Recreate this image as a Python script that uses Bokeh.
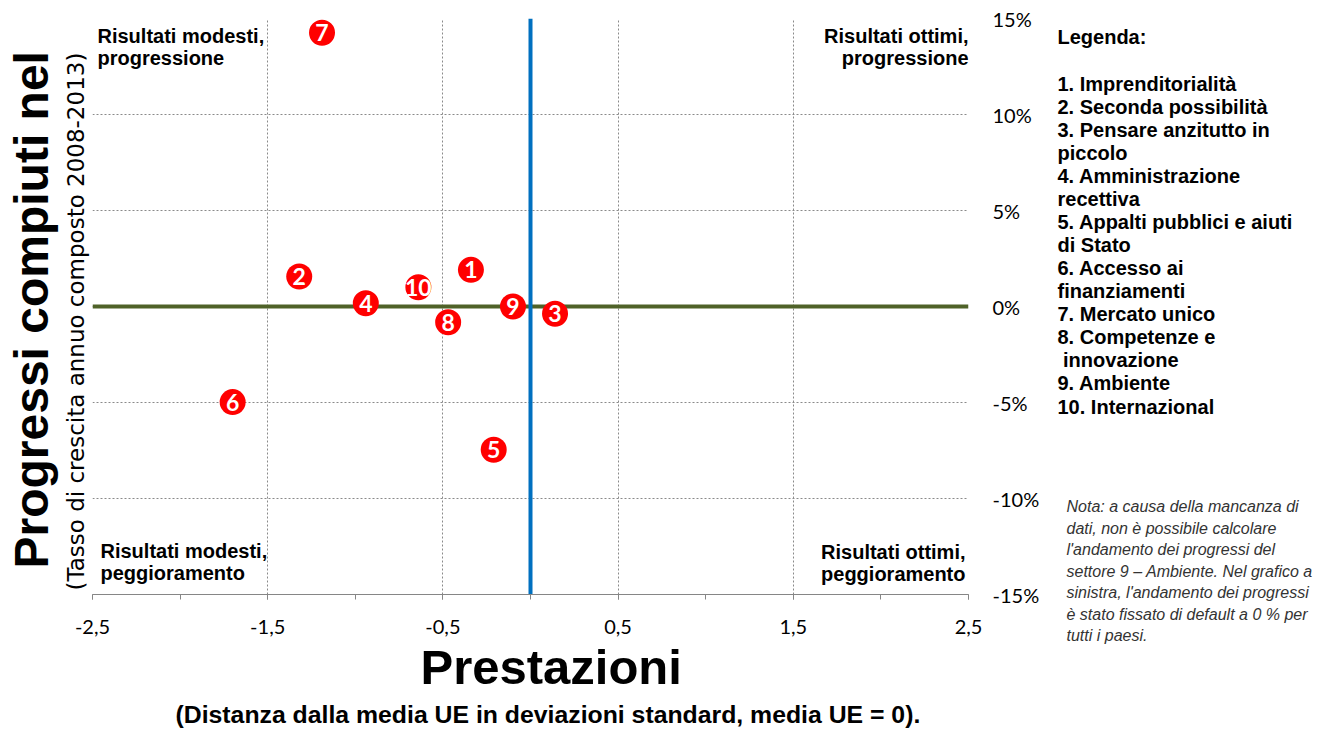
from bokeh.core.properties import value
from bokeh.embed import file_html
from bokeh.layouts import column, row
from bokeh.models import ColumnDataSource, FixedTicker, Label, Range1d, Span, Title
from bokeh.plotting import figure
from bokeh.resources import INLINE

# --- data -----------------------------------------------------------------
sector_ids = ["1", "2", "3", "4", "5", "6", "7", "8", "9", "10"]
performance = [-0.34, -1.32, 0.14, -0.94, -0.21, -1.70, -1.19, -0.47, -0.10, -0.64]
progress = [1.91, 1.56, -0.38, 0.17, -7.46, -4.98, 14.26, -0.82, 0.0, 1.00]

x_tick_values = [-2.5, -1.5, -0.5, 0.5, 1.5, 2.5]
x_tick_labels = ["-2,5", "-1,5", "-0,5", "0,5", "1,5", "2,5"]
x_minor_values = [-2.5, -2.0, -1.5, -1.0, -0.5, 0.0, 0.5, 1.0, 1.5, 2.0, 2.5]
y_tick_values = [-15, -10, -5, 0, 5, 10, 15]
y_tick_labels = ["-15%", "-10%", "-5%", "0%", "5%", "10%", "15%"]

legend_title = "Legenda:"
legend_lines = [
    "1. Imprenditorialità",
    "2. Seconda possibilità",
    "3. Pensare anzitutto in",
    "piccolo",
    "4. Amministrazione",
    "recettiva",
    "5. Appalti pubblici e aiuti",
    "di Stato",
    "6. Accesso ai",
    "finanziamenti",
    "7. Mercato unico",
    "8. Competenze e",
    "\u00a0innovazione",
    "9. Ambiente",
    "10. Internazional",
]

note_lines = [
    "Nota: a causa della mancanza di",
    "dati, non è possibile calcolare",
    "l'andamento dei progressi del",
    "settore 9 – Ambiente. Nel grafico a",
    "sinistra, l'andamento dei progressi",
    "è stato fissato di default a 0 % per",
    "tutti i paesi.",
]

quadrant_labels = {
    "top_left": ["Risultati modesti,", "progressione"],
    "top_right": ["Risultati ottimi,", "progressione"],
    "bottom_left": ["Risultati modesti,", "peggioramento"],
    "bottom_right": ["Risultati ottimi,", "peggioramento"],
}

x_title = "Prestazioni"
x_subtitle = "(Distanza dalla media UE in deviazioni standard, media UE = 0)."
y_title = "Progressi compiuti nel"
y_subtitle = "(Tasso di crescita annuo composto 2008-2013)"

# --- layout ----------------------------------------------------------------
H = 733
MAIN_W, SIDE_W = 1050, 280
F_LEFT, F_RIGHT, F_TOP, F_BOTTOM = 92, 968, 18, 594
X0, X1 = -2.5, 2.5
Y0, Y1 = -15, 15

p = figure(
    width=MAIN_W,
    height=H,
    x_range=Range1d(X0, X1),
    y_range=Range1d(Y0, Y1),
    output_backend="svg",
    toolbar_location=None,
    y_axis_location="right",
    min_border_left=F_LEFT,
    min_border_right=MAIN_W - F_RIGHT,
    min_border_top=F_TOP,
    min_border_bottom=H - F_BOTTOM,
)
p.outline_line_color = None
p.background_fill_color = "white"
p.border_fill_color = "white"

# bottom axis
xa = p.xaxis[0]
xa.ticker = FixedTicker(ticks=x_tick_values, minor_ticks=x_minor_values)
xa.major_label_overrides = dict(zip(x_tick_values, x_tick_labels))
xa.axis_line_color = "#868686"
xa.major_tick_line_color = "#868686"
xa.minor_tick_line_color = "#868686"
xa.major_tick_in = 0
xa.major_tick_out = 5
xa.minor_tick_in = 0
xa.minor_tick_out = 5
xa.major_label_standoff = 20
xa.major_label_text_font = "Lato"
xa.major_label_text_font_size = "20px"
xa.major_label_text_color = "black"

# right axis (percent)
ya = p.yaxis[0]
ya.ticker = FixedTicker(ticks=y_tick_values)
ya.major_label_overrides = dict(zip(y_tick_values, y_tick_labels))
ya.axis_line_color = None
ya.major_tick_line_color = None
ya.minor_tick_line_color = None
ya.major_tick_in = 0
ya.major_tick_out = 0
ya.major_label_standoff = 24
ya.major_label_text_font = "Lato"
ya.major_label_text_font_size = "20px"
ya.major_label_text_color = "black"

# dotted grid
p.xgrid.ticker = FixedTicker(ticks=x_tick_values)
p.ygrid.ticker = FixedTicker(ticks=y_tick_values)
for g in (p.xgrid[0], p.ygrid[0]):
    g.grid_line_color = "#8a8a8a"
    g.grid_line_dash = "2 2"
    g.grid_line_width = 1

# EU-average cross lines
p.add_layout(Span(location=0, dimension="width", line_color="#4F6228",
                  line_width=4, level="underlay"))
p.add_layout(Span(location=0, dimension="height", line_color="#0070C0",
                  line_width=4, level="underlay"))

# numbered sector markers
src = ColumnDataSource(dict(x=performance, y=progress, label=sector_ids))
p.scatter("x", "y", source=src, size=26, fill_color="#FF0000", line_color=None)
p.text("x", "y", text="label", source=src, text_color="white",
       text_font=value("Lato"), text_font_style="bold", text_font_size="23px",
       text_align="center", text_baseline="middle")


def add_caption(px, py, text, align="left"):
    """Quadrant caption centred vertically on a canvas pixel row."""
    p.add_layout(Label(
        x=px, y=py, x_units="canvas", y_units="canvas", text=text,
        text_font="Liberation Sans", text_font_size="20px", text_font_style="bold",
        text_color="black", text_align=align, text_baseline="middle",
    ))


for i, line in enumerate(quadrant_labels["top_left"]):
    add_caption(97, 35 + 22 * i, line)
for i, line in enumerate(quadrant_labels["top_right"]):
    add_caption(968, 35 + 22 * i, line, align="right")
for i, line in enumerate(quadrant_labels["bottom_left"]):
    add_caption(100, 550 + 22 * i, line)
for i, line in enumerate(quadrant_labels["bottom_right"]):
    add_caption(965, 551.5 + 22 * i, line, align="right")

# axis titles (stacked outward from the frame)
p.add_layout(Title(text=y_subtitle, align="left", offset=4, text_font="DejaVu Sans",
                   text_font_size="23px", text_font_style="normal",
                   text_color="black", standoff=7), "left")
p.add_layout(Title(text=y_title, align="left", offset=26, text_font="Liberation Sans",
                   text_font_size="48px", text_font_style="bold",
                   text_color="black", standoff=0), "left")
p.add_layout(Title(text=x_title, align="left", offset=328,
                   text_font="Liberation Sans", text_font_size="49px",
                   text_font_style="bold", text_color="black", standoff=2), "below")
p.add_layout(Title(text=x_subtitle, align="left", offset=83,
                   text_font="Liberation Sans", text_font_size="24.8px",
                   text_font_style="bold", text_color="black", standoff=8), "below")

# --- side panel: legend and note (data units = canvas pixels) -----------------
side = figure(
    width=SIDE_W, height=H,
    x_range=Range1d(0, SIDE_W), y_range=Range1d(H, 0),
    output_backend="svg", toolbar_location=None,
    min_border=0, min_border_left=0, min_border_right=0,
    min_border_top=0, min_border_bottom=0,
)
side.title.visible = False
side.axis.visible = False
side.grid.visible = False
side.outline_line_color = None
side.background_fill_color = "white"
side.border_fill_color = "white"

LEG_X = 1057 - MAIN_W
leg_text = [legend_title] + legend_lines
leg_y = [36.7] + [83.3 + 23.05 * i for i in range(len(legend_lines))]
side.text(x=[LEG_X] * len(leg_text), y=leg_y, text=leg_text,
          text_font=value("Liberation Sans"), text_font_size="20px",
          text_font_style="bold", text_color="black",
          text_align="left", text_baseline="middle")

NOTE_X = 1066 - MAIN_W
note_y = [506 + 21.5 * i for i in range(len(note_lines))]
side.text(x=[NOTE_X] * len(note_lines), y=note_y, text=note_lines,
          text_font=value("Liberation Sans"), text_font_size="16px",
          text_font_style="italic", text_color="#333333",
          text_align="left", text_baseline="middle")

layout = row(p, column(side, spacing=0), spacing=0)
open("out.html", "w").write(file_html(layout, INLINE))
